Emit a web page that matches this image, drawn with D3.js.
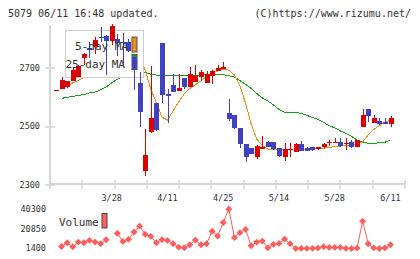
<!DOCTYPE html>
<html>
<head>
<meta charset="utf-8">
<script src="https://cdn.jsdelivr.net/npm/d3@7"></script>
<style>
  body { margin: 0; background: #fff; }
  text { font-family: "DejaVu Sans Mono", monospace; fill: #333; }
</style>
</head>
<body>
<script>
// trading days shown (2024)
var dates = ["3/13","3/14","3/15","3/18","3/19","3/21","3/22","3/25","3/26","3/27","3/28","3/29",
    "4/1","4/2","4/3","4/4","4/5","4/8","4/9","4/10","4/11","4/12","4/15","4/16","4/17","4/18","4/19",
    "4/22","4/23","4/24","4/25","4/26","4/30","5/1","5/2","5/7","5/8","5/9","5/10","5/13","5/14","5/15",
    "5/16","5/17","5/20","5/21","5/22","5/23","5/24","5/27","5/28","5/29","5/30","5/31","6/3","6/4",
    "6/5","6/6","6/7","6/10","6/11"];
var dateLabels = ["3/28", "4/11", "4/25", "5/14", "5/28", "6/11"];

var open = [2624,2628,2635,2656,2670,2735,2769,2773,2807,2810,2793,2799,2790,2790,2739,2648,2349,2482,2579,2787,
    2610,2642,2621,2665,2636,2653,2670,2648,2674,2690,2697,2547,2539,2496,2440,2428,2397,2423,2448,2446,
    2425,2397,2421,2414,2440,2426,2431,2422,2429,2443,2447,2448,2440,2448,2431,2499,2560,2513,2519,2515,2508];
var high = [2624,2669,2657,2699,2710,2752,2790,2805,2841,2813,2850,2816,2818,2800,2739,2687,2491,2707,2579,2787,
    2627,2679,2679,2665,2702,2710,2692,2690,2693,2711,2722,2594,2539,2496,2440,2428,2437,2467,2451,2446,
    2425,2443,2443,2445,2451,2431,2431,2431,2445,2455,2462,2462,2462,2455,2454,2560,2560,2539,2529,2529,2536];
var low = [2624,2628,2633,2656,2670,2710,2733,2747,2790,2676,2779,2740,2710,2755,2625,2500,2332,2479,2483,2579,
    2513,2619,2620,2628,2636,2653,2657,2648,2645,2690,2697,2520,2491,2428,2380,2405,2388,2423,2429,2418,
    2395,2383,2397,2414,2417,2417,2415,2418,2425,2435,2445,2430,2420,2425,2431,2499,2514,2513,2505,2508,2499];
var close = [2624,2659,2655,2692,2707,2749,2763,2796,2802,2793,2845,2787,2786,2759,2696,2551,2403,2528,2488,2608,
    2604,2619,2632,2636,2679,2673,2685,2679,2690,2701,2704,2526,2496,2439,2397,2405,2433,2429,2429,2422,
    2399,2422,2423,2440,2417,2417,2420,2431,2439,2448,2448,2434,2445,2431,2454,2539,2537,2528,2510,2510,2528];

var ma5 = [null,2631,2638,2649,2657,2668,2713,2741,2763,2781,2800,2805,2803,2794,2775,2733,2693,2628,2582,2532,
    2522,2553,2584,2611,2630,2643,2656,2671,2683,2690,2695,2693,2676,2638,2580,2509,2457,2435,2423,2420,
    2420,2422,2422,2422,2422,2423,2423,2425,2426,2429,2431,2433,2435,2437,2440,2447,2471,2490,2503,2514,2522];
var ma25 = [null,2596,2600,2603,2606,2609,2615,2618,2625,2635,2649,2662,2669,2675,2680,2688,2685,2679,2676,2675,
    2673,2673,2673,2673,2673,2674,2676,2677,2678,2679,2677,2674,2669,2657,2644,2630,2613,2598,2587,2574,
    2558,2549,2549,2548,2545,2538,2531,2524,2514,2503,2495,2485,2476,2466,2454,2447,2443,2443,2444,2446,2454];

var volume = [null,3400,7100,3100,7700,7100,9400,7700,6100,10000,null,16400,8400,10400,17700,23300,15400,13400,7100,10100,
    9400,6100,2700,2100,5100,9700,5100,6100,18400,13700,27000,40300,12100,17000,20300,4100,7700,8700,2100,5400,
    6400,10700,6100,1400,1500,1500,1500,1800,3200,2500,2500,2500,1500,1400,1800,28300,6100,2000,1400,2000,5100];

var priceTicks = [2300, 2500, 2700];
var volumeTicks = [1400, 20850, 40300];

var width = 420, height = 259;
var upColor = "#dd0000", downColor = "#4040c0";
var gridColor = "#d6d6d6";

var svg = d3.select("body").append("svg")
    .attr("width", width)
    .attr("height", height);

var x = d3.scalePoint().domain(dates).range([56, 390.5]);
var y = d3.scaleLinear().domain([2300, 2700]).range([185, 68]);
var vy = d3.scaleLinear().domain([1400, 40300]).range([248.5, 209]);
var gx = d3.scaleLinear().domain([0, 11]).range([50, 405]);

// header
svg.append("text").attr("x", 8).attr("y", 17).style("font-size", "10px")
    .text("5079 06/11 16:48 updated.");
svg.append("text").attr("x", 411).attr("y", 17).style("font-size", "10px")
    .style("text-anchor", "end").text("(C)https://www.rizumu.net/");

// axis frame
svg.append("line").attr("x1", 50).attr("x2", 50).attr("y1", 25).attr("y2", 189)
    .attr("stroke", gridColor).attr("stroke-width", 2);
svg.append("line").attr("x1", 50).attr("x2", 406).attr("y1", 184).attr("y2", 184)
    .attr("stroke", gridColor).attr("stroke-width", 2);
svg.append("g").selectAll("line")
    .data(d3.range(12))
    .enter().append("line")
    .attr("x1", function (d) { return Math.round(gx(d)); })
    .attr("x2", function (d) { return Math.round(gx(d)); })
    .attr("y1", 180).attr("y2", 189)
    .attr("stroke", gridColor).attr("stroke-width", 1.5);
svg.append("g").selectAll("line")
    .data(priceTicks)
    .enter().append("line")
    .attr("x1", 45).attr("x2", 55)
    .attr("y1", function (d) { return Math.round(y(d)); })
    .attr("y2", function (d) { return Math.round(y(d)); })
    .attr("stroke", gridColor).attr("stroke-width", 1.5);

svg.append("g").selectAll("text")
    .data(priceTicks)
    .enter().append("text")
    .attr("x", 40)
    .attr("y", function (d) { return y(d); })
    .attr("dy", "0.35em")
    .style("font-size", "8.5px")
    .style("text-anchor", "end")
    .text(function (d) { return d; });

// moving averages
var maLine = function (arr) {
    return d3.line()
        .defined(function (d) { return arr[dates.indexOf(d)] != null; })
        .x(function (d) { return x(d); })
        .y(function (d) { return y(arr[dates.indexOf(d)]); });
};
svg.append("path")
    .attr("fill", "none").attr("stroke", "#18a018").attr("stroke-width", 1)
    .attr("shape-rendering", "crispEdges")
    .attr("d", maLine(ma25)(dates));
svg.append("path")
    .attr("fill", "none").attr("stroke", "#f08c10").attr("stroke-width", 1)
    .attr("shape-rendering", "crispEdges")
    .attr("d", maLine(ma5)(dates));

// legend box (covers the lines, candles go over it)
svg.append("rect").attr("x", 65.5).attr("y", 30.5).attr("width", 78).attr("height", 47)
    .attr("fill", "#fff").attr("stroke", "#cccccc");
svg.append("rect").attr("x", 132).attr("y", 37).attr("width", 5).attr("height", 15)
    .attr("fill", "#f08c10").attr("stroke", "#555");
svg.append("rect").attr("x", 132).attr("y", 54.5).attr("width", 5).attr("height", 15)
    .attr("fill", "#18a018").attr("stroke", "#555");

// candles
var candles = svg.append("g").selectAll("g")
    .data(dates)
    .enter().append("g")
    .attr("shape-rendering", "crispEdges");

candles.append("line")
    .attr("x1", function (d) { return Math.round(x(d)) + 0.5; })
    .attr("x2", function (d) { return Math.round(x(d)) + 0.5; })
    .attr("y1", function (d, i) { return y(high[i]); })
    .attr("y2", function (d, i) { return y(low[i]); })
    .attr("stroke", function (d, i) { return close[i] >= open[i] ? upColor : downColor; });

candles.append("rect")
    .attr("x", function (d) { return Math.round(x(d)) - 2; })
    .attr("width", 5)
    .attr("y", function (d, i) { return y(Math.max(open[i], close[i])); })
    .attr("height", function (d, i) { return Math.max(1, Math.abs(y(open[i]) - y(close[i]))); })
    .attr("fill", function (d, i) { return close[i] >= open[i] ? upColor : downColor; });

// legend text
svg.append("text").attr("x", 128).attr("y", 50).style("font-size", "11px")
    .style("text-anchor", "end").text("5-day MA");
svg.append("text").attr("x", 125).attr("y", 67.5).style("font-size", "11px")
    .style("text-anchor", "end").text("25-day MA");

// date labels
svg.append("g").selectAll("text")
    .data(dateLabels)
    .enter().append("text")
    .attr("x", function (d) { return x(d); })
    .attr("y", 201)
    .style("font-size", "8.5px")
    .style("text-anchor", "middle")
    .text(function (d) { return d; });

// volume
svg.append("g").selectAll("text")
    .data(volumeTicks)
    .enter().append("text")
    .attr("x", 46)
    .attr("y", function (d) { return vy(d); })
    .attr("dy", "0.35em")
    .style("font-size", "8.5px")
    .style("text-anchor", "end")
    .text(function (d) { return d; });

var volLine = d3.line()
    .defined(function (d, i) { return volume[i] != null; })
    .x(function (d) { return x(d); })
    .y(function (d, i) { return vy(volume[i]); });

svg.append("path")
    .attr("fill", "none").attr("stroke", "#ff5c5c").attr("stroke-width", 1)
    .attr("d", volLine(dates));

svg.append("g").selectAll("path")
    .data(dates.filter(function (d, i) { return volume[i] != null; }))
    .enter().append("path")
    .attr("d", d3.symbol().type(d3.symbolDiamond2).size(30))
    .attr("transform", function (d) {
        return "translate(" + x(d) + "," + vy(volume[dates.indexOf(d)]) + ")";
    })
    .attr("fill", "#ff5c5c");

svg.append("text").attr("x", 59).attr("y", 226).style("font-size", "11px").text("Volume");
svg.append("rect").attr("x", 102).attr("y", 213.5).attr("width", 5).attr("height", 14.5)
    .attr("fill", "#ff6060").attr("stroke", "#444");
</script>
</body>
</html>
